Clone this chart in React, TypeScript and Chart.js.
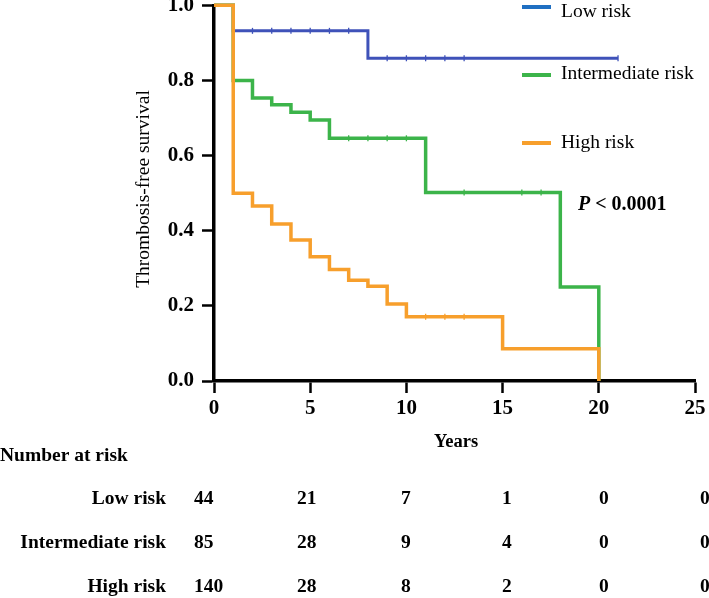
import React, { useEffect, useRef } from "react";
import { Chart, registerables } from "chart.js";

Chart.register(...registerables);

const FONT = '"Liberation Serif", "Times New Roman", Times, serif';

// ---- Data ----
const seriesNames = ["Low risk", "Intermediate risk", "High risk"];

const lowTimes = [0, 1, 8, 21];
const lowSurv = [1, 0.932, 0.859, 0.859];
const lowCensor = [2, 3, 4, 5, 6, 7, 9, 10, 11, 12, 13, 21];

const intTimes = [0, 1, 2, 3, 4, 5, 6, 11, 18, 20];
const intSurv = [1, 0.8, 0.753, 0.735, 0.715, 0.695, 0.646, 0.502, 0.25, 0];
const intCensor = [7, 8, 9, 10, 13, 16, 17];

const highTimes = [0, 1, 2, 3, 4, 5, 6, 7, 8, 9, 10, 15, 20];
const highSurv = [1, 0.5, 0.466, 0.418, 0.375, 0.331, 0.297, 0.268, 0.252, 0.205, 0.171, 0.086, 0];
const highCensor = [11, 12, 13];

const xTicks = [0, 5, 10, 15, 20, 25];
const yTicks = [0, 0.2, 0.4, 0.6, 0.8, 1.0];

const atRiskLow = [44, 21, 7, 1, 0, 0];
const atRiskInt = [85, 28, 9, 4, 0, 0];
const atRiskHigh = [140, 28, 8, 2, 0, 0];

const pValueText = "< 0.0001";

// ---- Styles / layout ----
const curveColors = ["#3f52b9", "#3cb44a", "#f79f2c"];
const legendColors = ["#1f6fc2", "#3cb44a", "#f79f2c"];
const legendLineY = [7, 75, 143];
const legendTextY = [12, 74, 143];
const tableColX = [194, 297, 401, 502, 599, 700];
const tableRowY = [499, 543, 587];

function stepPoints(times: number[], surv: number[]) {
  return times.map((t, i) => ({ x: t, y: surv[i] }));
}
function censorPoints(censor: number[], times: number[], surv: number[]) {
  return censor.map((t) => {
    let s = surv[0];
    for (let i = 0; i < times.length; i++) if (times[i] <= t) s = surv[i];
    return { x: t, y: s };
  });
}

const extrasPlugin = {
  id: "extras",
  afterDraw(chart: any) {
    const ctx = chart.ctx;
    ctx.save();
    ctx.fillStyle = "#000";
    // y-axis title
    ctx.save();
    ctx.translate(144, 189);
    ctx.rotate(-Math.PI / 2);
    ctx.font = `19.5px ${FONT}`;
    ctx.textAlign = "center";
    ctx.textBaseline = "middle";
    ctx.fillText("Thrombosis-free survival", 0, 0);
    ctx.restore();
    // x-axis title
    ctx.font = `bold 18.5px ${FONT}`;
    ctx.textAlign = "center";
    ctx.textBaseline = "middle";
    ctx.fillText("Years", 456, 442);

    // legend
    seriesNames.forEach((n, i) => {
      ctx.strokeStyle = legendColors[i];
      ctx.lineWidth = 4;
      ctx.beginPath();
      ctx.moveTo(522, legendLineY[i]);
      ctx.lineTo(551, legendLineY[i]);
      ctx.stroke();
      ctx.fillStyle = "#000";
      ctx.font = `19.5px ${FONT}`;
      ctx.textAlign = "left";
      ctx.textBaseline = "middle";
      ctx.fillText(n, 561, legendTextY[i]);
    });

    // P value
    ctx.textAlign = "left";
    ctx.textBaseline = "middle";
    ctx.font = `italic bold 20px ${FONT}`;
    ctx.fillText("P", 578, 205);
    const pw = ctx.measureText("P").width;
    ctx.font = `bold 20px ${FONT}`;
    ctx.fillText(" " + pValueText, 578 + pw, 205);

    // Number at risk table
    ctx.font = `bold 19.5px ${FONT}`;
    ctx.textAlign = "left";
    ctx.fillText("Number at risk", 0, 456);
    const rows = [atRiskLow, atRiskInt, atRiskHigh];
    rows.forEach((vals, r) => {
      ctx.textAlign = "right";
      ctx.fillText(seriesNames[r], 166, tableRowY[r]);
      ctx.textAlign = "left";
      vals.forEach((v, c) => ctx.fillText(String(v), tableColX[c], tableRowY[r]));
    });
    ctx.restore();
  },
};

export default function App() {
  const ref = useRef<HTMLCanvasElement | null>(null);
  useEffect(() => {
    document.body.style.margin = "0";
    const canvas = ref.current!;
    const lineDs = (label: string, times: number[], surv: number[], color: string, width: number, order: number) => ({
      type: "line",
      label,
      data: stepPoints(times, surv),
      borderColor: color,
      backgroundColor: color,
      borderWidth: width,
      stepped: "before",
      pointRadius: 0,
      fill: false,
      clip: false,
      order,
    });
    const censorDs = (label: string, pts: any[], color: string, order: number) => ({
      type: "line",
      label,
      data: pts,
      showLine: false,
      borderColor: color,
      backgroundColor: color,
      pointStyle: "line",
      pointRotation: 90,
      pointRadius: 3,
      pointBorderWidth: 1.3,
      pointBorderColor: color,
      clip: false,
      order,
    });
    const chart = new Chart(canvas, {
      type: "line",
      data: {
        datasets: [
          censorDs("high-c", censorPoints(highCensor, highTimes, highSurv), curveColors[2], 0),
          lineDs(seriesNames[2], highTimes, highSurv, curveColors[2], 3.5, 1),
          censorDs("int-c", censorPoints(intCensor, intTimes, intSurv), curveColors[1], 2),
          lineDs(seriesNames[1], intTimes, intSurv, curveColors[1], 3.5, 3),
          censorDs("low-c", censorPoints(lowCensor, lowTimes, lowSurv), curveColors[0], 4),
          lineDs(seriesNames[0], lowTimes, lowSurv, curveColors[0], 3, 5),
        ] as any,
      },
      options: {
        animation: false,
        responsive: false,
        devicePixelRatio: 1,
        layout: { padding: { left: 0, right: 14, top: 4, bottom: 177 } },
        plugins: { legend: { display: false }, tooltip: { enabled: false } },
        scales: {
          x: {
            type: "linear",
            min: 0,
            max: 25,
            afterBuildTicks: (s: any) => {
              s.ticks = xTicks.map((v) => ({ value: v }));
            },
            afterFit: (s: any) => {
              s.height = 40;
              s.paddingLeft = 0;
              s.paddingRight = 0;
            },
            grid: { drawOnChartArea: false, drawTicks: true, tickLength: 12, tickWidth: 2.5, tickColor: "#000" },
            border: { display: true, color: "#000", width: 3.5 },
            ticks: {
              color: "#000",
              font: { family: FONT, size: 21, weight: "bold" },
              padding: 3,
              maxRotation: 0,
              autoSkip: false,
              callback: (v: any) => String(v),
            },
          },
          y: {
            type: "linear",
            min: 0,
            max: 1,
            afterBuildTicks: (s: any) => {
              s.ticks = yTicks.map((v) => ({ value: v }));
            },
            afterFit: (s: any) => {
              s.width = 214;
              s.paddingTop = 0;
              s.paddingBottom = 0;
            },
            grid: { drawOnChartArea: false, drawTicks: true, tickLength: 12, tickWidth: 2.5, tickColor: "#000" },
            border: { display: true, color: "#000", width: 3.5 },
            ticks: {
              color: "#000",
              font: { family: FONT, size: 21, weight: "bold" },
              padding: 8,
              autoSkip: false,
              callback: (v: any) => Number(v).toFixed(1),
            },
          },
        },
      } as any,
      plugins: [extrasPlugin],
    });
    return () => chart.destroy();
  }, []);
  return (
    <div style={{ width: 709, height: 598, background: "#fff" }}>
      <canvas ref={ref} width={709} height={598} style={{ display: "block", width: 709, height: 598 }} />
    </div>
  );
}
